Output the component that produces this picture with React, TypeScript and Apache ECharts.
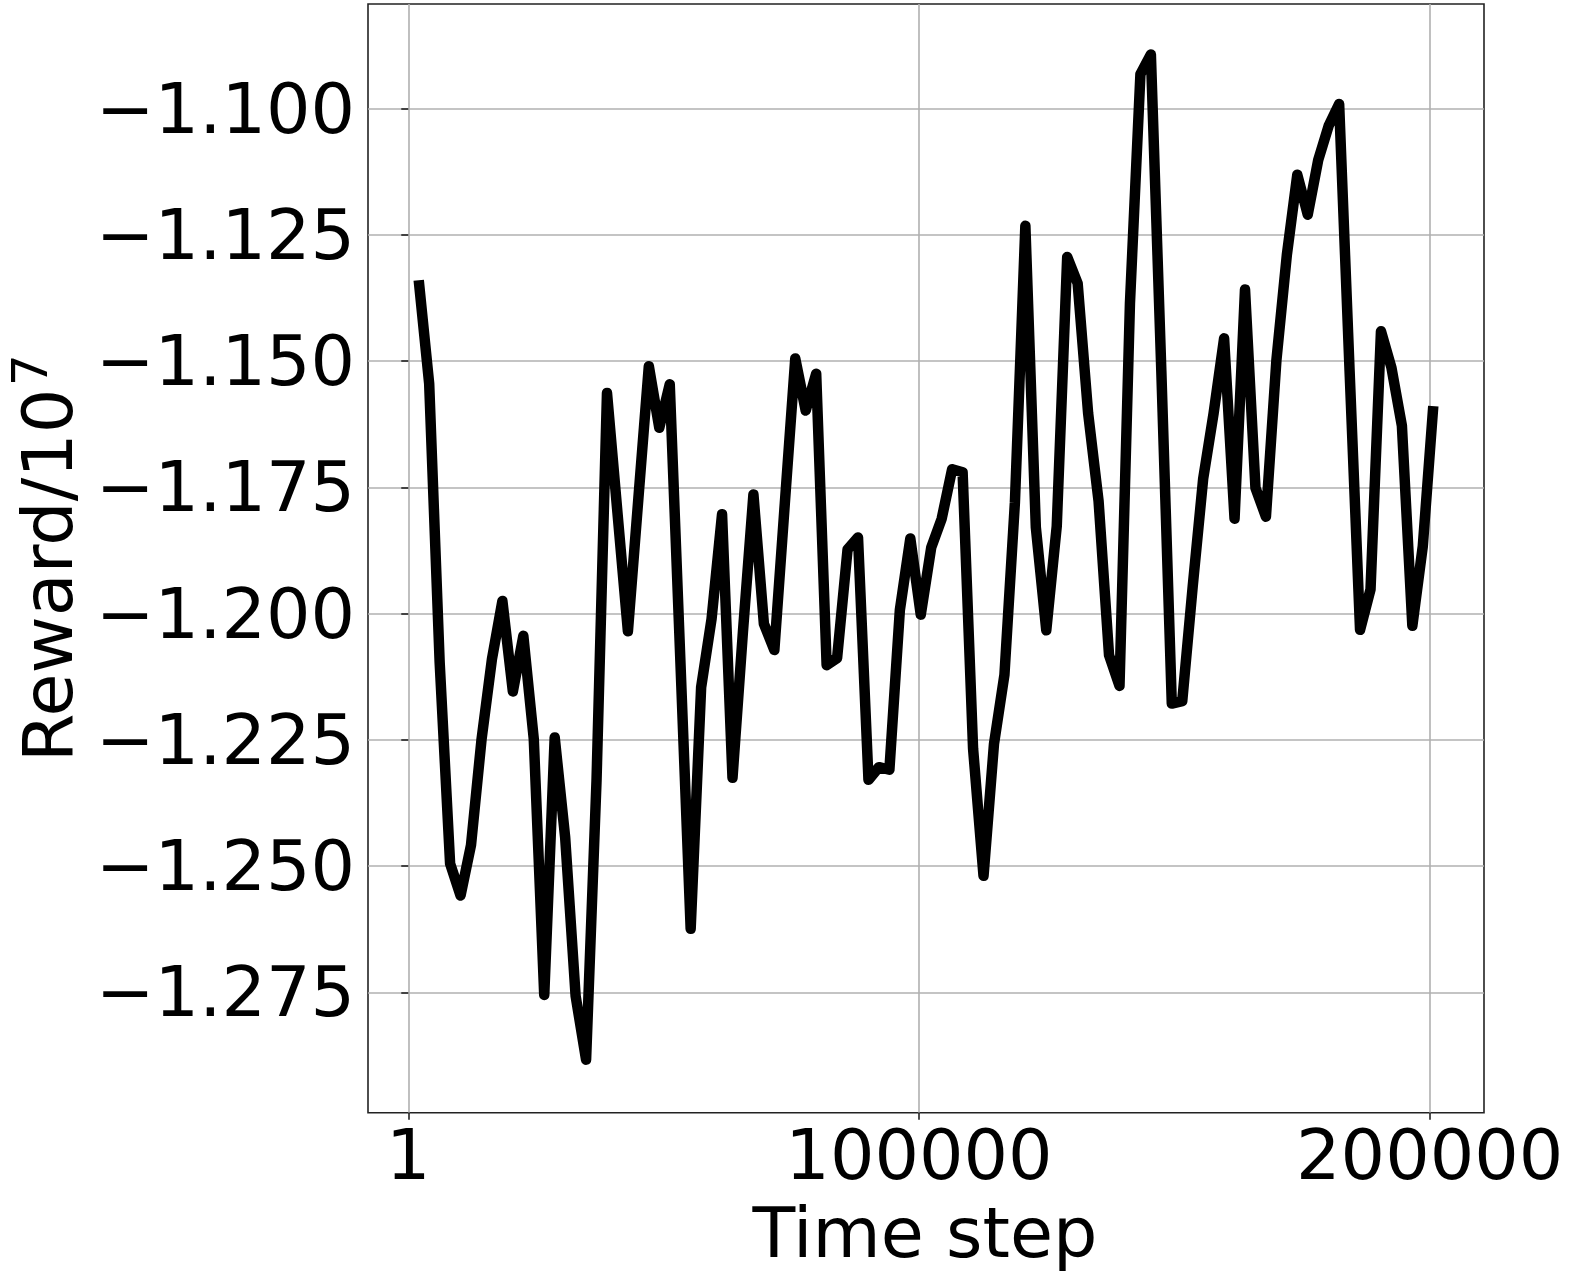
import React, { useEffect, useRef } from "react";
import * as echarts from "echarts";

// Reward (in units of 1e7), one value per evaluation point
const REWARD: number[] = [
  -1.134, -1.1545, -1.2096, -1.2495, -1.2558, -1.2458, -1.225, -1.209, -1.1975, -1.2154,
  -1.2044, -1.2248, -1.2755, -1.2245, -1.2443, -1.2757, -1.2883, -1.233, -1.1563, -1.18,
  -1.2035, -1.1772, -1.151, -1.1632, -1.1546, -1.2085, -1.2624, -1.2146, -1.201, -1.1803,
  -1.2325, -1.2035, -1.1764, -1.202, -1.2072, -1.1782, -1.1495, -1.1598, -1.1525, -1.2102,
  -1.2088, -1.1873, -1.1849, -1.2329, -1.2304, -1.2309, -1.1993, -1.1851, -1.2002, -1.1869,
  -1.1812, -1.1714, -1.172, -1.2267, -1.2519, -1.2258, -1.2121, -1.178, -1.1232, -1.1829,
  -1.2033, -1.1827, -1.1294, -1.1346, -1.1603, -1.1777, -1.2082, -1.2143, -1.1385, -1.0932,
  -1.0893, -1.152, -1.2178, -1.2173, -1.1946, -1.1733, -1.1603, -1.1455, -1.1812, -1.1358,
  -1.1751, -1.1808, -1.1499, -1.129, -1.1131, -1.121, -1.1102, -1.1034, -1.0991, -1.152,
  -1.2032, -1.1952, -1.1441, -1.1513, -1.1628, -1.2024, -1.1866, -1.1589,
];

// evaluation every 2048 time steps
const EVAL_EVERY = 2048;
const TIME_STEPS: number[] = REWARD.map((_, i) => (i + 1) * EVAL_EVERY);

const X_TICKS: number[] = [1, 100000, 200000];
const Y_TICKS: number[] = [-1.275, -1.25, -1.225, -1.2, -1.175, -1.15, -1.125, -1.1];

const X_MIN = -7885;
const X_MAX = 210637;
const Y_MIN = -1.2988;
const Y_MAX = -1.0793;

const FONT = "DejaVu Sans";

export default function App() {
  const ref = useRef<HTMLDivElement>(null);

  useEffect(() => {
    if (!ref.current) return;
    const chart = echarts.init(ref.current, null, { renderer: "svg" });
    const seriesData = TIME_STEPS.map((t, i) => [t, REWARD[i]]);

    chart.setOption({
      animation: false,
      backgroundColor: "#ffffff",
      grid: {
        left: 368,
        top: 4,
        width: 1116,
        height: 1108.7,
        show: true,
        borderColor: "#222222",
        borderWidth: 1.6,
        backgroundColor: "transparent",
        containLabel: false,
      },
      xAxis: {
        type: "value",
        min: X_MIN,
        max: X_MAX,
        axisLine: { show: false },
        axisTick: {
          show: true,
          customValues: X_TICKS,
          length: 7,
          inside: false,
          lineStyle: { color: "#222222", width: 1.6 },
        },
        axisLabel: {
          show: true,
          customValues: X_TICKS,
          formatter: (v: number) => String(v),
          fontFamily: FONT,
          fontSize: 70,
          color: "#000000",
          margin: 7,
          showMinLabel: true,
          showMaxLabel: true,
        },
        splitLine: {
          show: true,
          lineStyle: { color: "#b0b0b0", width: 1.6 },
        },
      },
      yAxis: {
        type: "value",
        min: Y_MIN,
        max: Y_MAX,
        axisLine: { show: false },
        axisTick: {
          show: true,
          customValues: Y_TICKS,
          length: 7,
          inside: false,
          lineStyle: { color: "#222222", width: 1.6 },
        },
        axisLabel: {
          show: true,
          customValues: Y_TICKS,
          formatter: (v: number) => "\u2212" + Math.abs(v).toFixed(3),
          fontFamily: FONT,
          fontSize: 70,
          color: "#000000",
          margin: 13,
          padding: [5, 0, 0, 0],
        },
        splitLine: {
          show: true,
          lineStyle: { color: "#b0b0b0", width: 1.6 },
        },
      },
      graphic: [
        {
          type: "text",
          x: 925,
          y: 1233,
          style: {
            text: "Time step",
            fontFamily: FONT,
            fontSize: 70,
            fill: "#000000",
            textAlign: "center",
            textVerticalAlign: "middle",
          },
        },
        {
          type: "text",
          x: 48,
          y: 762,
          rotation: Math.PI / 2,
          style: {
            text: "Reward/10",
            fontFamily: FONT,
            fontSize: 70,
            fill: "#000000",
            textAlign: "left",
            textVerticalAlign: "middle",
          },
        },
        {
          type: "text",
          x: 30,
          y: 386,
          rotation: Math.PI / 2,
          style: {
            text: "7",
            fontFamily: FONT,
            fontSize: 50,
            fill: "#000000",
            textAlign: "left",
            textVerticalAlign: "middle",
          },
        },
      ],
      series: [
        {
          type: "line",
          data: seriesData,
          showSymbol: false,
          symbol: "none",
          lineStyle: { color: "#000000", width: 10.5, cap: "butt", join: "round" },
          z: 3,
        },
      ],
    });

    return () => chart.dispose();
  }, []);

  return (
    <div
      ref={ref}
      style={{ position: "fixed", left: 0, top: 0, width: 1577, height: 1283, background: "#fff" }}
    />
  );
}
